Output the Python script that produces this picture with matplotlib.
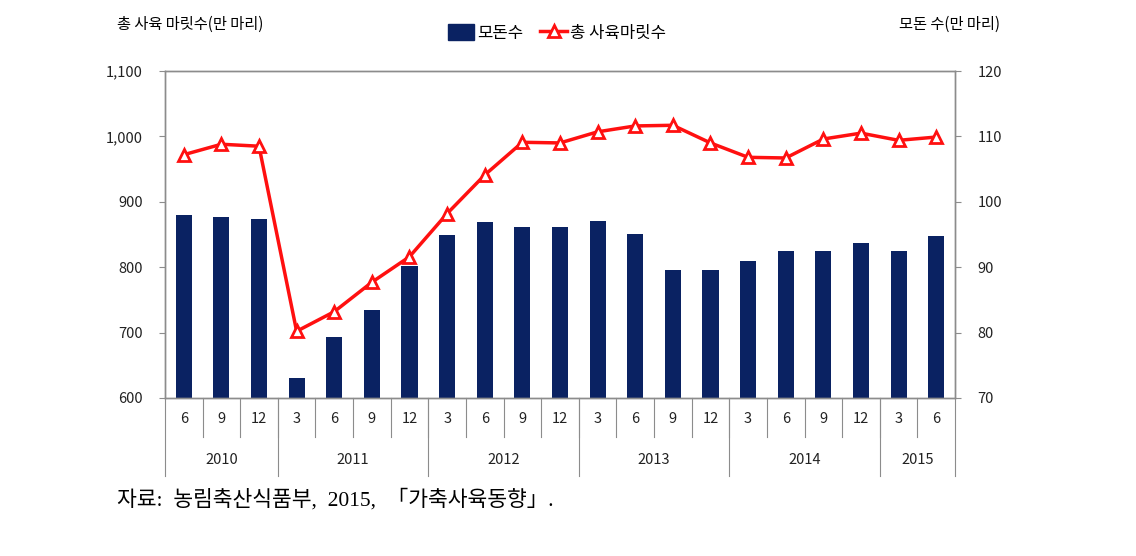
import matplotlib.pyplot as plt
from matplotlib.lines import Line2D
from matplotlib.patches import Patch

plt.rcParams['font.family'] = ['Liberation Sans Narrow', 'Noto Sans CJK KR', 'DejaVu Sans']

# 데이터
years = ['2010', '2011', '2012', '2013', '2014', '2015']
months = ['6', '9', '12',
          '3', '6', '9', '12',
          '3', '6', '9', '12',
          '3', '6', '9', '12',
          '3', '6', '9', '12',
          '3', '6']
year_counts = [3, 4, 4, 4, 4, 2]
sows = [98.0, 97.6, 97.4, 73.1, 79.3, 83.5, 90.2, 94.9, 96.9, 96.2, 96.2,
        97.1, 95.1, 89.6, 89.5, 90.9, 92.4, 92.4, 93.7, 92.4, 94.8]
total = [972, 988, 985, 702, 732, 777, 816, 882, 941, 991, 990,
         1007, 1016, 1017, 990, 968, 967, 996, 1005, 994, 999]

navy = '#0a2262'
red = '#ff1010'
gray = '#8c8c8c'

fig = plt.figure(figsize=(11.36, 5.56), dpi=100)
ax = fig.add_axes([0.1452, 0.2842, 0.6955, 0.5881])
ax2 = ax.twinx()
x = list(range(len(months)))

# 모돈수 (오른쪽 축)
ax.bar(x, sows, width=0.43, color=navy, zorder=2)
ax.set_ylim(70, 120)
ax.set_yticks(range(70, 121, 10))
ax.set_xlim(-0.5, len(months) - 0.5)
ax.set_xticks([])

# 총 사육마릿수 (왼쪽 축)
ax2.plot(x, total, color=red, lw=2.5, marker='^', ms=9, mfc='white',
         mec=red, mew=2, zorder=3)
ax2.set_ylim(600, 1100)
ax2.set_yticks(range(600, 1101, 100))
ax2.set_yticklabels([f'{v:,}' for v in range(600, 1101, 100)])

ax.yaxis.tick_right()
ax2.yaxis.tick_left()

for a in (ax, ax2):
    for s in a.spines.values():
        s.set_color(gray)
        s.set_linewidth(1)
    a.tick_params(axis='y', length=4, color=gray, labelsize=10.5, pad=12,
                  labelcolor='#222222')

# 아래 카테고리 축
tr = ax.get_xaxis_transform()
for i, m in enumerate(months):
    ax.text(i, -0.065, m, transform=tr, ha='center', va='center', fontsize=10.5, color='#222222')
for i in range(1, len(months)):
    ax.add_line(Line2D([i - 0.5, i - 0.5], [0, -0.12], transform=tr, color=gray, lw=0.8, clip_on=False))
start = 0
bounds = [-0.5]
for y, c in zip(years, year_counts):
    ax.text(start + (c - 1) / 2, -0.19, y, transform=tr, ha='center', va='center', fontsize=10.5, color='#222222')
    start += c
    bounds.append(start - 0.5)
for b in bounds:
    ax.add_line(Line2D([b, b], [0, -0.24], transform=tr, color=gray, lw=0.8, clip_on=False))

# 축 제목, 범례
fig.text(117 / 1136, 1 - 24 / 556, '총 사육 마릿수(만 마리)', fontsize=11, va='center', ha='left')
fig.text(1000 / 1136, 1 - 24 / 556, '모돈 수(만 마리)', fontsize=11, va='center', ha='right')
handles = [Patch(color=navy, label='모돈수'),
           Line2D([], [], color=red, lw=2.5, marker='^', ms=8, mfc='white', mec=red, mew=2, label='총 사육마릿수')]
fig.legend(handles=handles, loc='center', bbox_to_anchor=(557 / 1136, 1 - 33 / 556), ncol=2,
           frameon=False, fontsize=12, handlelength=1.6, handleheight=1.1, handletextpad=0.2,
           columnspacing=1.0)

fig.text(117 / 1136, 1 - 500 / 556, '자료:  농림축산식품부,  2015,  「가축사육동향」.',
         family=['Liberation Serif', 'Noto Sans CJK KR'], fontsize=15.5, va='center', ha='left')

fig.savefig('out.png', dpi=100)
